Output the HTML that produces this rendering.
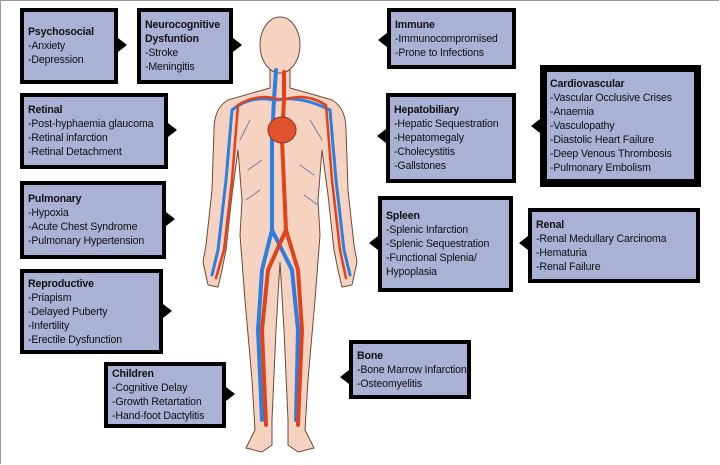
<!DOCTYPE html>
<html><head><meta charset="utf-8"><style>
body{margin:0;width:720px;height:465px;background:#fff;position:relative;overflow:hidden;font-family:"Liberation Sans",sans-serif;}
.frame{position:absolute;left:0;top:0;width:719px;height:464px;border-top:1px solid #999;border-left:1px solid #999;box-sizing:border-box}
.b{position:absolute;box-sizing:border-box;background:#a9b1d4;border:4px solid #000;padding:0 4px;font-size:10.6px;line-height:14px;color:#111;white-space:nowrap;display:flex;flex-direction:column;justify-content:center;letter-spacing:-0.15px}
.b b{font-weight:bold}
.t{position:absolute;width:0;height:0;border-top:7px solid transparent;border-bottom:7px solid transparent}
.r{border-left:9px solid #000}.l{border-right:9px solid #000}
</style></head><body>
<div class="frame"></div>
<svg style="position:absolute;left:0;top:0" width="720" height="465">
<g stroke="#6b4a3a" stroke-width="1" fill="#f6d2c0">
<path d="M270,70 L270,88 Q245,95 228,100 Q214,108 214,130 L212,190 L206,245 L203,262 L208,285 L218,287 L222,270 L226,250 L232,195 L238,150 L242,200 L240,235 L245,300 L252,380 L255,430 L246,448 L262,452 L272,445 L272,420 L276,330 L280,262 L284,330 L288,420 L288,445 L298,452 L314,448 L305,430 L308,380 L315,300 L320,235 L318,200 L322,150 L328,195 L334,250 L338,270 L342,287 L352,285 L357,262 L354,245 L348,190 L346,130 Q346,108 332,100 Q315,95 290,88 L290,70 Z"/>
<ellipse cx="280" cy="45" rx="20" ry="28"/>
</g>
<g fill="none" stroke-linecap="round">
<path d="M276,70 L274,100 L272,140 L272,230 L262,270 L258,330 L262,420" stroke="#2a7fe0" stroke-width="4"/>
<path d="M274,100 Q250,95 232,110 L226,180 L218,250 L212,275" stroke="#2a7fe0" stroke-width="3"/>
<path d="M276,100 Q300,95 330,110 L336,180 L344,250 L350,275" stroke="#2a7fe0" stroke-width="3"/>
<path d="M272,230 L292,270 L298,330 L296,420" stroke="#2a7fe0" stroke-width="4"/>
<path d="M284,72 L284,100 L282,140 L286,230 L298,270 L302,330 L298,425" stroke="#e0421c" stroke-width="4"/>
<path d="M280,100 Q260,92 238,105 L232,180 L224,250 L216,278" stroke="#e0421c" stroke-width="2.5"/>
<path d="M284,100 Q305,92 326,105 L332,180 L340,250 L346,278" stroke="#e0421c" stroke-width="2.5"/>
<path d="M286,230 L268,270 L262,330 L266,425" stroke="#e0421c" stroke-width="4"/>
<path d="M250,120 L240,140 M310,120 L322,140 M262,160 L248,170 M300,165 L314,175 M260,190 L246,200 M304,195 L318,205" stroke="#6b7fa8" stroke-width="1"/>
</g>
<ellipse cx="282" cy="130" rx="14" ry="13" fill="#e0522c" stroke="#8a3020"/>
</svg>
<div class="b" style="left:20px;top:8px;width:98px;height:76px"><b>Psychosocial</b><span>-Anxiety</span><span>-Depression</span></div>
<div class="t r" style="left:118px;top:38px"></div>
<div class="b" style="left:137px;top:8px;width:96px;height:76px"><b>Neurocognitive</b><b>Dysfuntion</b><span>-Stroke</span><span>-Meningitis</span></div>
<div class="t r" style="left:233px;top:38px"></div>
<div class="b" style="left:20px;top:93px;width:148px;height:76px"><b>Retinal</b><span>-Post-hyphaemia glaucoma</span><span>-Retinal infarction</span><span>-Retinal Detachment</span></div>
<div class="t r" style="left:168px;top:123px"></div>
<div class="b" style="left:20px;top:181px;width:146px;height:78px"><b>Pulmonary</b><span>-Hypoxia</span><span>-Acute Chest Syndrome</span><span>-Pulmonary Hypertension</span></div>
<div class="t r" style="left:166px;top:212px"></div>
<div class="b" style="left:20px;top:269px;width:143px;height:85px"><b>Reproductive</b><span>-Priapism</span><span>-Delayed Puberty</span><span>-Infertility</span><span>-Erectile Dysfunction</span></div>
<div class="t r" style="left:163px;top:304px"></div>
<div class="b" style="left:104px;top:362px;width:122px;height:66px"><b>Children</b><span>-Cognitive Delay</span><span>-Growth Retartation</span><span>-Hand-foot Dactylitis</span></div>
<div class="t r" style="left:226px;top:387px"></div>
<div class="b" style="left:387px;top:8px;width:129px;height:61px"><b>Immune</b><span>-Immunocompromised</span><span>-Prone to Infections</span></div>
<div class="t l" style="left:378px;top:33px"></div>
<div class="b" style="left:540px;top:65px;width:161px;height:122px;border-width:7px 7px 8px 7px;padding:0 3px"><b>Cardiovascular</b><span>-Vascular Occlusive Crises</span><span>-Anaemia</span><span>-Vasculopathy</span><span>-Diastolic Heart Failure</span><span>-Deep Venous Thrombosis</span><span>-Pulmonary Embolism</span></div>
<div class="t l" style="left:531px;top:119px"></div>
<div class="b" style="left:386px;top:93px;width:130px;height:90px"><b>Hepatobiliary</b><span>-Hepatic Sequestration</span><span>-Hepatomegaly</span><span>-Cholecystitis</span><span>-Gallstones</span></div>
<div class="t l" style="left:377px;top:129px"></div>
<div class="b" style="left:378px;top:196px;width:135px;height:96px"><b>Spleen</b><span>-Splenic Infarction</span><span>-Splenic Sequestration</span><span>-Functional Splenia/</span><span>Hypoplasia</span></div>
<div class="t l" style="left:369px;top:236px"></div>
<div class="b" style="left:528px;top:208px;width:172px;height:75px"><b>Renal</b><span>-Renal Medullary Carcinoma</span><span>-Hematuria</span><span>-Renal Failure</span></div>
<div class="t l" style="left:519px;top:236px"></div>
<div class="b" style="left:349px;top:340px;width:122px;height:59px"><b>Bone</b><span>-Bone Marrow Infarction</span><span>-Osteomyelitis</span></div>
<div class="t l" style="left:340px;top:370px"></div>
</body></html>
